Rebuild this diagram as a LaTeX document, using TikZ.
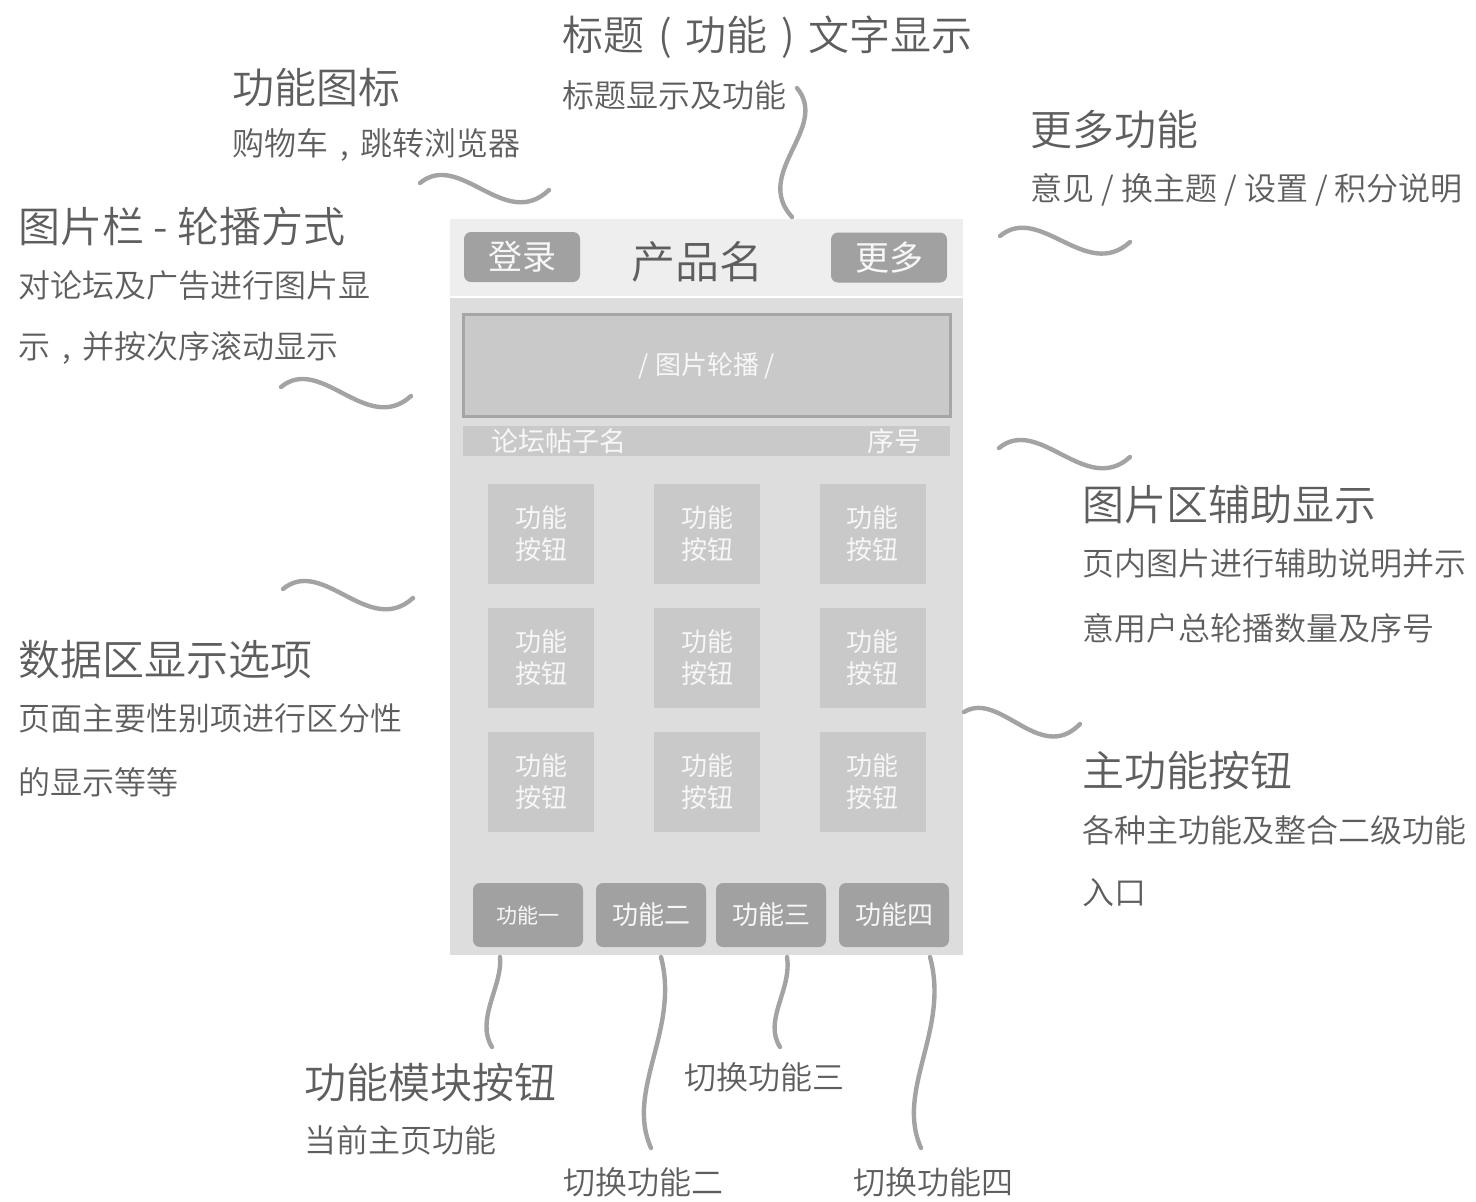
\documentclass[tikz,border=0pt]{standalone}
\usepackage{fontspec}
\setmainfont{Noto Sans CJK SC}[UprightFont=* DemiLight]
\newfontfamily\regfont{Noto Sans CJK SC}
\newcommand{\fwp}[1]{\makebox[1em][c]{#1}}
\definecolor{headgray}{HTML}{EEEEEE}
\definecolor{bodygray}{HTML}{DCDDDC}
\definecolor{btngray}{HTML}{A0A1A0}
\definecolor{cellgray}{HTML}{C8C9C8}
\definecolor{framegray}{HTML}{A5A6A5}
\definecolor{labelgray}{HTML}{5E5E5E}
\definecolor{wavegray}{HTML}{A3A3A3}
\definecolor{paletext}{HTML}{F7F7F7}
\tikzset{
  big/.style={anchor=west, inner sep=0pt, text=labelgray, font=\fontsize{21}{21}\selectfont},
  small/.style={anchor=west, inner sep=0pt, text=labelgray, font=\fontsize{16}{16}\selectfont},
  wave/.style={draw=wavegray, line width=2.2pt, line cap=round},
  topbtn/.style={fill=btngray, rounded corners=3.5pt, minimum width=58pt, minimum height=25pt, inner sep=0pt, text=paletext, font=\regfont\fontsize{17}{17}\selectfont},
  cell/.style={fill=cellgray, minimum width=53pt, minimum height=50pt, inner sep=0pt, text=paletext, align=center, font=\regfont\fontsize{13}{16}\selectfont},
  tabbtn/.style={fill=btngray, rounded corners=3.5pt, minimum width=55pt, minimum height=32pt, inner sep=0pt, text=paletext, font=\regfont\fontsize{13}{13}\selectfont},
}
\begin{document}
\begin{tikzpicture}[x=0.5pt,y=-0.5pt]
\path[use as bounding box, fill=white] (0,0) rectangle (1476,1201);

% phone frame
\node (header) [fill=headgray, minimum width=256.5pt, minimum height=38.5pt, inner sep=0pt, anchor=north west] at (450,219) {};
\node (body) [fill=bodygray, minimum width=256.5pt, minimum height=328.5pt, inner sep=0pt, anchor=north west] at (450,298) {};

\node (login) [topbtn] at (522,257) {登录};
\node (more) [topbtn] at (889,257.5) {更多};
\node (prodname) [inner sep=0pt, text=labelgray, font=\fontsize{22}{22}\selectfont] at (697,262) {产品名};

\node (carousel) [fill=cellgray, draw=framegray, line width=1.1pt, minimum width=243.5pt, minimum height=51pt, inner sep=0pt, text=paletext, font=\regfont\fontsize{13}{13}\selectfont] at (707,365.5) {/ 图片轮播 /};
\node (caption) [fill=cellgray, minimum width=243.5pt, minimum height=15pt, inner sep=0pt] at (706.5,441) {};
\node (postname) [anchor=west, inner sep=0pt, text=paletext, font=\regfont\fontsize{13.5}{13.5}\selectfont] at (491,441) {论坛帖子名};
\node (seqno) [anchor=east, inner sep=0pt, text=paletext, font=\regfont\fontsize{13.5}{13.5}\selectfont] at (922,441) {序号};

% grid
\node (c11) [cell] at (541,533.5) {功能\\按钮};
\node (c12) [cell] at (707,533.5) {功能\\按钮};
\node (c13) [cell] at (872.5,533.5) {功能\\按钮};
\node (c21) [cell] at (541,657.5) {功能\\按钮};
\node (c22) [cell] at (707,657.5) {功能\\按钮};
\node (c23) [cell] at (872.5,657.5) {功能\\按钮};
\node (c31) [cell] at (541,781.5) {功能\\按钮};
\node (c32) [cell] at (707,781.5) {功能\\按钮};
\node (c33) [cell] at (872.5,781.5) {功能\\按钮};

% tab bar
\node (tab1) [tabbtn, font=\regfont\fontsize{10.5}{10.5}\selectfont] at (528,915) {功能一};
\node (tab2) [tabbtn] at (651,915) {功能二};
\node (tab3) [tabbtn] at (771,915) {功能三};
\node (tab4) [tabbtn] at (894,915) {功能四};

% labels
\node (t1) [big, font=\fontsize{20.5}{20.5}\selectfont] at (562,37) {标题\fwp{(}功能\fwp{)}文字显示};
\node (t1s) [small] at (562,95) {标题显示及功能};
\node (t2) [big] at (232,88) {功能图标};
\node (t2s) [small] at (232,145) {购物车\fwp{,}跳转浏览器};
\node (t3) [big] at (18,226) {图片栏 - 轮播方式};
\node (t3s) [small] at (18,285) {对论坛及广告进行图片显};
\node (t3t) [small] at (18,348) {示\fwp{,}并按次序滚动显示};
\node (t4) [big] at (1030,130) {更多功能};
\node (t4s) [small] at (1030,190) {意见 / 换主题 / 设置 / 积分说明};
\node (t5) [big] at (1082,505) {图片区辅助显示};
\node (t5s) [small] at (1082,563) {页内图片进行辅助说明并示};
\node (t5t) [small] at (1082,628) {意用户总轮播数量及序号};
\node (t6) [big] at (18,660) {数据区显示选项};
\node (t6s) [small] at (18,718) {页面主要性别项进行区分性};
\node (t6t) [small] at (18,782) {的显示等等};
\node (t7) [big] at (1082,770) {主功能按钮};
\node (t7s) [small] at (1082,830) {各种主功能及整合二级功能};
\node (t7t) [small] at (1082,893) {入口};
\node (t8) [big] at (304,1082) {功能模块按钮};
\node (t8s) [small] at (304,1140) {当前主页功能};
\node (t9) [small] at (563,1182) {切换功能二};
\node (t10) [small] at (684,1077) {切换功能三};
\node (t11) [small] at (853,1182) {切换功能四};

% wave connector ends
\coordinate (wa1) at (420,183);  \coordinate (wa2) at (549,190);
\coordinate (wb1) at (797,88);   \coordinate (wb2) at (792,217);
\coordinate (wc1) at (1000,236); \coordinate (wc2) at (1130,242);
\coordinate (wd1) at (281,387);  \coordinate (wd2) at (411,396);
\coordinate (we1) at (283,589);  \coordinate (we2) at (413,598);
\coordinate (wf1) at (999,448);  \coordinate (wf2) at (1130,457);
\coordinate (wg1) at (964,712);  \coordinate (wg2) at (1080,724);
\coordinate (wh1) at (500,957);  \coordinate (wh2) at (492,1047);
\coordinate (wi1) at (661,957);  \coordinate (wi2) at (651,1148);
\coordinate (wj1) at (787,957);  \coordinate (wj2) at (780,1047);
\coordinate (wk1) at (930,957);  \coordinate (wk2) at (921,1148);

\draw[wave] (wa1) .. controls (460,150) and (505,232) .. (wa2);
\draw[wave] (wb1) .. controls (830,128) and (752,173) .. (wb2);
\draw[wave] (wc1) .. controls (1040,203) and (1086,282) .. (wc2);
\draw[wave] (wd1) .. controls (321,354) and (367,436) .. (wd2);
\draw[wave] (we1) .. controls (323,556) and (369,638) .. (we2);
\draw[wave] (wf1) .. controls (1039,415) and (1086,497) .. (wf2);
\draw[wave] (wg1) .. controls (1000,690) and (1040,765) .. (wg2);
\draw[wave] (wh1) .. controls (503,985) and (475,1020) .. (wh2);
\draw[wave] (wi1) .. controls (680,1030) and (625,1090) .. (wi2);
\draw[wave] (wj1) .. controls (792,990) and (763,1020) .. (wj2);
\draw[wave] (wk1) .. controls (950,1030) and (895,1090) .. (wk2);
\end{tikzpicture}
\end{document}
